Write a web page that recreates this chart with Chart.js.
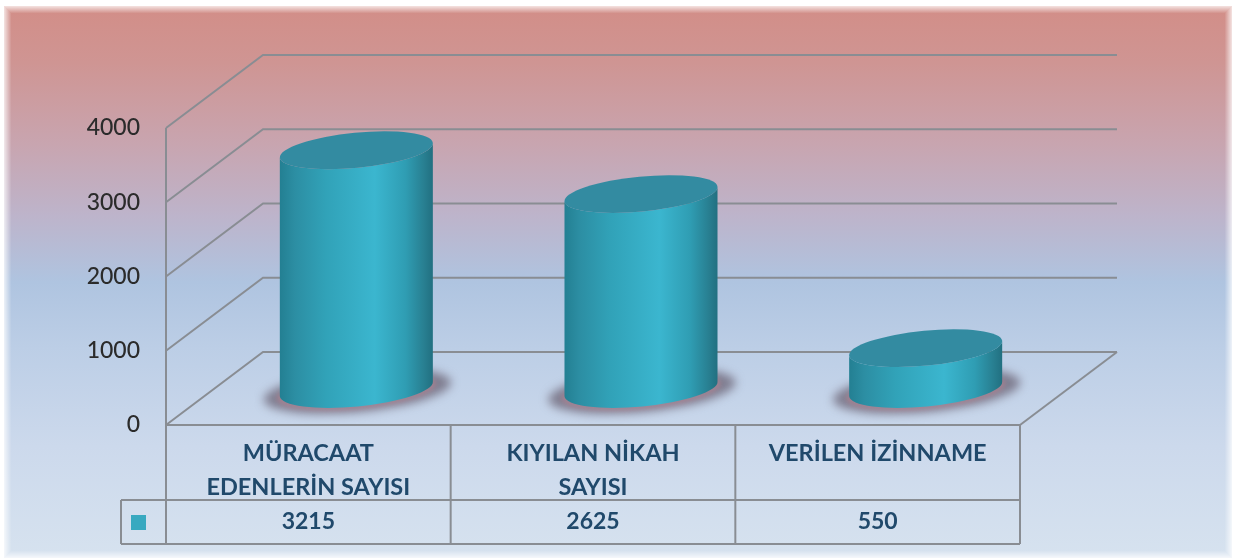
<!DOCTYPE html>
<html><head><meta charset="utf-8">
<style>html,body{margin:0;padding:0;background:#fff}canvas{display:block;filter:blur(0.7px)}</style>
<script src="https://cdn.jsdelivr.net/npm/chart.js@4/dist/chart.umd.js"></script>
</head><body><div style="width:1236px;height:560px"><canvas id="c" width="1236" height="560"></canvas></div>
<script>
const categories = [["MÜRACAAT","EDENLERİN SAYISI"],["KIYILAN NİKAH","SAYISI"],["VERİLEN İZİNNAME"]];
const seriesValues = [3215,2625,550];
const yTicks = [0,1000,2000,3000,4000];

const DX=97, DY=-73, MX=48, MY=-36, TILT=-5.5*Math.PI/180, RY=17.5;
const textColor='#20496b', lineColor='#898d93';

const scene={
  id:'scene',
  beforeDraw(ch){
    const c=ch.ctx; c.save();
    const g=c.createLinearGradient(0,8,0,556);
    [[0,'#d28e88'],[0.1,'#cf9593'],[0.25,'#c8a5b0'],[0.38,'#bdb4cb'],[0.5,'#afc4e0'],[0.62,'#bccee6'],[0.8,'#ccd9ec'],[1,'#d6e2ef']].forEach(s=>g.addColorStop(s[0],s[1]));
    c.fillStyle=g; c.fillRect(4,6,1228,552);
    for(let i=0;i<7;i++){c.strokeStyle='rgba(255,255,255,'+(0.7-i*0.1)+')';c.lineWidth=1;c.strokeRect(4.5+i,6.5+i,1227-2*i,551-2*i);}
    c.restore();
  },
  beforeDatasetsDraw(ch){
    const c=ch.ctx,a=ch.chartArea,y=ch.scales.y,x=ch.scales.x;
    c.save(); c.strokeStyle=lineColor; c.lineWidth=2; c.lineJoin='miter';
    yTicks.forEach(v=>{
      const p=y.getPixelForValue(v);
      c.beginPath(); c.moveTo(a.left,p); c.lineTo(a.left+DX,p+DY); c.lineTo(a.right+DX,p+DY); c.stroke();
    });
    c.beginPath(); c.moveTo(a.left,y.getPixelForValue(4000)); c.lineTo(a.left,a.bottom); c.stroke();
    c.beginPath(); c.moveTo(a.right+DX,a.bottom+DY); c.lineTo(a.right,a.bottom); c.stroke();
    const r1=500,r2=544,left=121;
    c.beginPath();c.moveTo(a.left,a.bottom);c.lineTo(a.right,a.bottom);c.stroke();
    c.beginPath();c.moveTo(left,r1);c.lineTo(a.right,r1);c.stroke();
    c.beginPath();c.moveTo(left,r2);c.lineTo(a.right,r2);c.stroke();
    c.beginPath();c.moveTo(left,r1);c.lineTo(left,r2);c.stroke();
    c.beginPath();c.moveTo(a.left,a.bottom);c.lineTo(a.left,r2);c.stroke();
    const w=(a.right-a.left)/categories.length;
    for(let i=1;i<=categories.length;i++){c.beginPath();c.moveTo(a.left+w*i,a.bottom);c.lineTo(a.left+w*i,r2);c.stroke();}
    c.fillStyle='#38a9c0'; c.fillRect(131,515,15,15);
    c.fillStyle=textColor; c.font='bold 23px Lato'; c.textAlign='center'; c.textBaseline='middle';
    seriesValues.forEach((v,i)=>c.fillText(String(v),x.getPixelForValue(i),522));
    c.restore();
    ch.getDatasetMeta(0).data.forEach(b=>{
      const cx=b.x+MX, top=b.y+MY, base=b.base+MY, rx=b.width/2;
      c.save();
      c.filter='blur(5px)';
      c.fillStyle='rgba(105,98,115,0.75)';
      c.beginPath(); c.ellipse(cx+1,base+2,94,21,TILT,0,Math.PI*2); c.fill();
      c.filter='blur(2px)';
      c.fillStyle='rgba(180,130,145,0.6)';
      c.beginPath(); c.ellipse(cx,base+2,80,18,TILT,0,Math.PI*2); c.fill();
      c.filter='none';
      const g=c.createLinearGradient(cx-rx,0,cx+rx,0);
      [[0,'#237f92'],[0.1,'#2c8ea3'],[0.3,'#31a2b8'],[0.62,'#3bb6cf'],[0.82,'#2f9db3'],[0.94,'#287f91'],[1,'#216f80']].forEach(s=>g.addColorStop(s[0],s[1]));
      c.fillStyle=g;
      c.beginPath();
      c.ellipse(cx,top,rx,RY,TILT,Math.PI,0,true);
      c.ellipse(cx,base,rx,RY,TILT,0,Math.PI,false);
      c.closePath(); c.fill();
      c.fillStyle='#338ba1';
      c.beginPath(); c.ellipse(cx,top,rx,RY,TILT,0,Math.PI*2); c.fill();
      c.restore();
    });
  }
};

new Chart(document.getElementById('c'),{
  type:'bar',
  data:{labels:categories,datasets:[{data:seriesValues,backgroundColor:'rgba(0,0,0,0)',borderWidth:0,barPercentage:0.54,categoryPercentage:1}]},
  plugins:[scene],
  options:{
    responsive:false,animation:false,
    layout:{padding:{left:0,top:128,right:216,bottom:0}},
    plugins:{legend:{display:false},tooltip:{enabled:false}},
    scales:{
      x:{
        grid:{display:false,drawTicks:false},border:{display:false},
        afterFit(s){s.height=135;},
        ticks:{maxRotation:0,autoSkip:false,padding:11,color:textColor,font:{family:'Lato',size:23.5,weight:'bold',lineHeight:1.45}}
      },
      y:{
        min:0,max:4000,
        grid:{display:false,drawTicks:false},border:{display:false},
        afterFit(s){s.width=166;},
        ticks:{stepSize:1000,padding:26,color:'#2b2b2b',font:{family:'Lato',size:23,weight:'500'},callback:v=>String(v)}
      }
    }
  }
});
</script></body></html>
